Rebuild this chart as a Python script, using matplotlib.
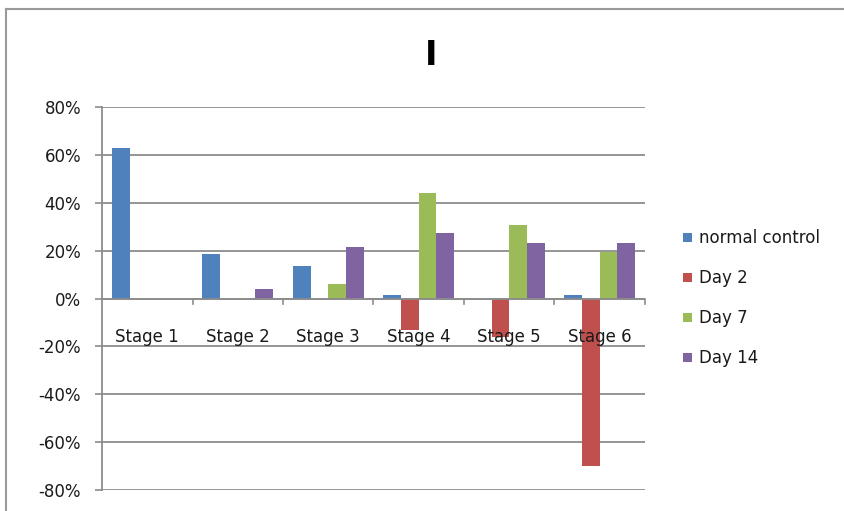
import numpy as np
import matplotlib
matplotlib.use("Agg")
import matplotlib.pyplot as plt
from matplotlib.lines import Line2D
from matplotlib.patches import Rectangle
from matplotlib.ticker import FuncFormatter

categories = ["Stage 1", "Stage 2", "Stage 3", "Stage 4", "Stage 5", "Stage 6"]
series_names = ["normal control", "Day 2", "Day 7", "Day 14"]
normal_control = [63.0, 18.5, 13.5, 1.5, 0.0, 1.5]
day_2 = [0.0, 0.0, 0.0, -13.0, -16.0, -70.0]
day_7 = [0.0, 0.0, 6.0, 44.0, 30.5, 19.5]
day_14 = [0.0, 4.0, 21.5, 27.5, 23.0, 23.0]
colors = ["#4F81BD", "#C0504D", "#9BBB59", "#8064A2"]
y_ticks = [-80, -60, -40, -20, 0, 20, 40, 60, 80]

plt.rcParams["font.family"] = ["DejaVu Sans"]

fig = plt.figure(figsize=(8.44, 5.11), dpi=100)
ax = fig.add_axes([102 / 844, 1 - 490 / 511, (645 - 102) / 844, (490 - 107) / 511])

values = [normal_control, day_2, day_7, day_14]
x = np.arange(len(categories))
bw = 0.195
for k, (vals, col) in enumerate(zip(values, colors)):
    ax.bar(x + (k - 1.5) * bw, vals, width=bw, color=col, zorder=3, linewidth=0)

ax.set_xlim(-0.5, len(categories) - 0.5)
ax.set_ylim(-80, 80)
ax.set_yticks(y_ticks)
ax.yaxis.set_major_formatter(FuncFormatter(lambda v, p: f"{v:.0f}%"))
ax.tick_params(axis="y", direction="out", length=5, width=1.2, color="#8c8c8c",
               labelsize=12, pad=10, labelcolor="#1a1a1a")
ax.yaxis.grid(True, color="#8c8c8c", linewidth=1.3, zorder=1)
ax.set_xticks([])

for s in ["top", "right", "bottom"]:
    ax.spines[s].set_visible(False)
ax.spines["left"].set_color("#8c8c8c")
ax.spines["left"].set_linewidth(1.3)

# horizontal category axis at zero with boundary ticks
ax.axhline(0, color="#8c8c8c", linewidth=1.3, zorder=4)
for b in np.arange(0.5, len(categories), 1.0):
    ax.plot([b, b], [0, -2.3], color="#8c8c8c", linewidth=1.2, zorder=4, clip_on=False)

for i, c in enumerate(categories):
    ax.text(i, -16.0, c, ha="center", va="center", fontsize=12, color="#1a1a1a", zorder=5)

fig.text(431 / 844, 1 - 55 / 511, "I", ha="center", va="center", fontsize=24,
         fontweight="bold", color="black")

# legend
for k, (name, col) in enumerate(zip(series_names, colors)):
    yc = 1 - (238 + 40 * k) / 511
    fig.add_artist(Rectangle((683 / 844, yc - 4.5 / 511), 9 / 844, 9 / 511,
                             transform=fig.transFigure, color=col, linewidth=0))
    fig.text(699 / 844, yc, name, ha="left", va="center", fontsize=12, color="#1a1a1a")

# chart area border
fig.add_artist(Line2D([6 / 844, 6 / 844], [0, 1 - 9 / 511], transform=fig.transFigure,
                      color="#9a9a9a", linewidth=1.5))
fig.add_artist(Line2D([6 / 844, 1], [1 - 9 / 511, 1 - 9 / 511], transform=fig.transFigure,
                      color="#9a9a9a", linewidth=1.5))

fig.savefig("out.png", dpi=100, facecolor="white")
